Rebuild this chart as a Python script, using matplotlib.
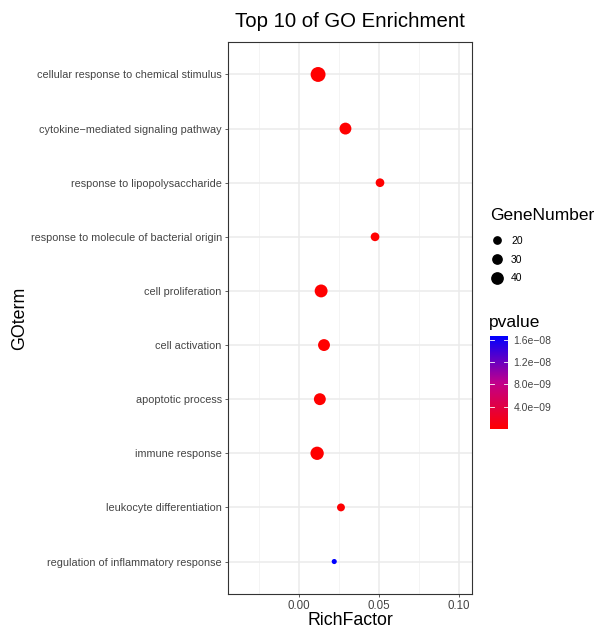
import numpy as np
import matplotlib
matplotlib.use("Agg")
import matplotlib.pyplot as plt
from matplotlib.colors import LinearSegmentedColormap, Normalize
from matplotlib.lines import Line2D

plt.rcParams['font.family'] = ['Liberation Sans', 'DejaVu Sans']

terms = ["cellular response to chemical stimulus",
         "cytokine\u2212mediated signaling pathway",
         "response to lipopolysaccharide",
         "response to molecule of bacterial origin",
         "cell proliferation",
         "cell activation",
         "apoptotic process",
         "immune response",
         "leukocyte differentiation",
         "regulation of inflammatory response"]
rich = [0.0119, 0.0290, 0.0506, 0.0475, 0.0138, 0.0156, 0.0130, 0.0113, 0.0262, 0.0220]
genes = [58, 43, 27, 27, 48, 43, 43, 50, 23, 9]
pvals = [2.0e-12, 5.0e-11, 3.0e-11, 6.0e-11, 1.0e-11, 8.0e-12, 2.0e-11, 4.0e-13, 1.5e-10, 1.67e-8]

size_breaks = [20, 30, 40]
p_ticks = [4.0e-9, 8.0e-9, 1.2e-8, 1.6e-8]
p_ticklabels = ["4.0e\u221209", "8.0e\u221209", "1.2e\u221208", "1.6e\u221208"]


def msize(n):
    # point diameter in px -> marker area in pt^2 (dpi 100)
    d = 3.3 + 0.2 * np.asarray(n, dtype=float)
    return (d * 0.72) ** 2


cmap = LinearSegmentedColormap.from_list("pv", ["#FF0000", "#C0008C", "#0000FF"])
norm = Normalize(vmin=0, vmax=max(pvals))

W, H = 595, 628
fig = plt.figure(figsize=(W / 100, H / 100), dpi=100)
ax = fig.add_axes([228 / W, 1 - 594 / H, (472 - 228) / W, (594 - 42) / H])

ypos = np.arange(len(terms))[::-1]
ax.scatter(rich, ypos, s=msize(genes), c=pvals, cmap=cmap, norm=norm, linewidths=0, zorder=3)

ax.set_xlim(-0.0444, 0.1081)
ax.set_ylim(-0.6, len(terms) - 0.4)
ax.set_yticks(ypos)
ax.set_yticklabels(terms)
ax.set_xticks([0.0, 0.05, 0.10])
ax.set_xticklabels(["0.00", "0.05", "0.10"])
ax.set_xticks([-0.025, 0.025, 0.075], minor=True)
ax.grid(True, which="major", color="#EBEBEB", linewidth=1.1, zorder=0)
ax.grid(True, which="minor", axis="x", color="#F2F2F2", linewidth=0.6, zorder=0)
ax.set_axisbelow(True)
ax.tick_params(axis="y", which="major", colors="#444444", labelsize=7.8, length=2.5, width=0.6, pad=2)
ax.tick_params(axis="x", which="major", colors="#444444", labelsize=8.3, length=2.5, width=0.6, pad=2)
ax.tick_params(which="minor", length=0)
for sp in ax.spines.values():
    sp.set_color("#333333")
    sp.set_linewidth(0.8)

ax.set_xlabel("RichFactor", fontsize=12.8, labelpad=0)
ax.set_ylabel("GOterm", fontsize=12.8)
ax.yaxis.set_label_coords(-(228 - 28) / (472 - 228), 0.5)
ax.set_title("Top 10 of GO Enrichment", fontsize=14.7, pad=11)

# GeneNumber legend
handles = [Line2D([], [], linestyle="none", marker="o", color="black",
                  markersize=np.sqrt(msize(b))) for b in size_breaks]
leg = fig.legend(handles, [str(b) for b in size_breaks], title="GeneNumber",
                 loc="upper left", bbox_to_anchor=(485 / W, 1 - 203 / H),
                 frameon=False, fontsize=7.5, title_fontsize=12.5,
                 handletextpad=0.7, labelspacing=0.85, borderpad=0, handlelength=1.3)
leg._legend_box.align = "left"
leg._legend_box.sep = 9

# pvalue colorbar
fig.text(489 / W, 1 - 322 / H, "pvalue", fontsize=12.5, va="center", ha="left")
cax = fig.add_axes([490 / W, 1 - 429 / H, 18 / W, (429 - 336) / H])
sm = plt.cm.ScalarMappable(norm=Normalize(vmin=0, vmax=1.67e-8), cmap=cmap)
cb = fig.colorbar(sm, cax=cax, ticks=p_ticks)
cb.set_ticklabels(p_ticklabels)
cb.outline.set_visible(False)
cax.tick_params(labelsize=7.5, colors="#444444", length=0, pad=4)
for t in p_ticks:
    cax.axhline(t, xmin=0, xmax=0.2, color="white", linewidth=0.6)
    cax.axhline(t, xmin=0.8, xmax=1, color="white", linewidth=0.6)

fig.savefig("out.png", dpi=100, facecolor="white")
